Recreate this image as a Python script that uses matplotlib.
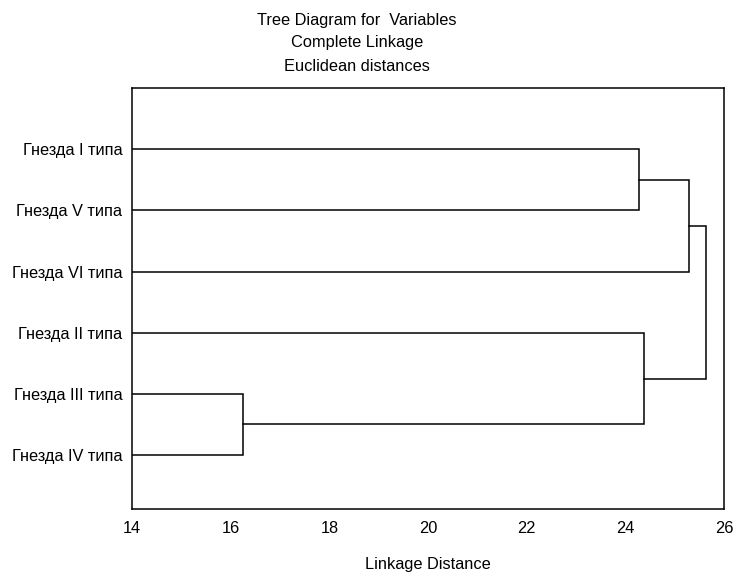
import matplotlib
matplotlib.use("Agg")
import matplotlib.pyplot as plt

plt.rcParams["font.family"] = ["Liberation Sans", "DejaVu Sans"]

# leaves, top to bottom
labels = ["Гнезда I типа", "Гнезда V типа", "Гнезда VI типа",
          "Гнезда II типа", "Гнезда III типа", "Гнезда IV типа"]

# merges as in a linkage table: (child a, child b, linkage distance)
# clusters are numbered 0..5 for leaves, 6.. for merges in this order
merge_a = [4, 0, 7, 3, 8]
merge_b = [5, 1, 2, 6, 9]
merge_h = [16.25, 24.28, 25.30, 24.37, 25.63]

x_ticks = [14, 16, 18, 20, 22, 24, 26]
x_min, x_max = 14, 26

title_lines = ["Tree Diagram for  Variables", "Complete Linkage",
               "Euclidean distances"]

fig = plt.figure(figsize=(7.35, 5.75), dpi=100)
ax = fig.add_axes([0.1796, 0.115, 0.8054, 0.732])

# node positions: leaves sit on the left edge, merges at their height
pos_x = [x_min] * len(labels)
pos_y = list(range(1, len(labels) + 1))
for a, b, h in zip(merge_a, merge_b, merge_h):
    xa, ya = pos_x[a], pos_y[a]
    xb, yb = pos_x[b], pos_y[b]
    ax.plot([xa, h, h, xb], [ya, ya, yb, yb], color="black", lw=1.1,
            solid_joinstyle="miter")
    pos_x.append(h)
    pos_y.append((ya + yb) / 2)

fs = 11.8
ax.set_xlim(x_min, x_max)
ax.set_ylim(6.88, 0.0)
ax.set_xticks(x_ticks)
ax.set_xticklabels([str(t) for t in x_ticks], fontsize=fs)
ax.set_yticks(range(1, len(labels) + 1))
ax.set_yticklabels(labels, fontsize=fs)
ax.tick_params(axis="x", length=0, pad=9)
ax.tick_params(axis="y", length=0, pad=7)
for s in ax.spines.values():
    s.set_linewidth(1.1)

ax.set_xlabel("Linkage Distance", fontsize=fs, labelpad=15)

for i, (line, ypx) in enumerate(zip(title_lines, [20, 43, 67])):
    fig.text(357 / 735, 1 - ypx / 575, line, ha="center", va="center",
             fontsize=fs)

fig.savefig("out.png", dpi=100)
